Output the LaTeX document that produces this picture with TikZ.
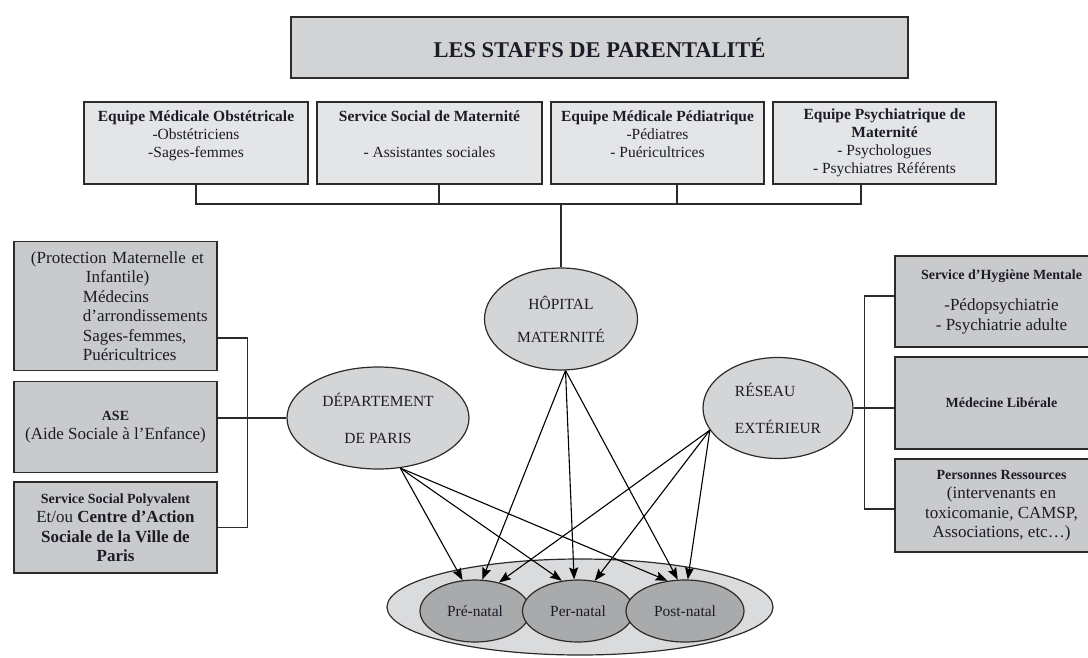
\documentclass[tikz,border=0pt]{standalone}
\usepackage{fontspec}
\setmainfont{Liberation Serif}
\usetikzlibrary{arrows.meta,shapes.geometric}

\definecolor{inkcol}{HTML}{1C1C28}
\definecolor{linecol}{HTML}{2B2B2B}
\definecolor{titlefill}{HTML}{D2D3D5}
\definecolor{topfill}{HTML}{E4E5E7}
\definecolor{sidefill}{HTML}{C9CACC}
\definecolor{ellfill}{HTML}{D4D5D7}
\definecolor{outerfill}{HTML}{DADBDD}
\definecolor{innerfill}{HTML}{A9AAAC}

\newcommand{\titlesize}{\fontsize{22.5}{26}\selectfont}
\newcommand{\topsize}{\fontsize{15.5}{18}\selectfont}
\newcommand{\sidesize}{\fontsize{17}{19.5}\selectfont}
\newcommand{\headsize}{\fontsize{14}{17}\selectfont}

\begin{document}
\begin{tikzpicture}[x=1pt,y=-1pt,
  box/.style={draw=linecol,line width=1.4pt,inner sep=0pt,text=inkcol,align=center},
  topbox/.style={box,fill=topfill,font=\topsize,minimum height=82pt},
  sidebox/.style={box,fill=sidefill,font=\sidesize,minimum width=203pt},
  pole/.style={ellipse,draw=linecol,line width=1.2pt,fill=ellfill,inner sep=0pt,text=inkcol,font=\topsize,align=center},
  period/.style={ellipse,draw=linecol,line width=1.2pt,fill=innerfill,inner sep=0pt,text=inkcol,font=\topsize,minimum height=62pt},
  link/.style={draw=linecol,line width=1.1pt},
  arr/.style={draw=black,line width=1.1pt,-{Stealth[length=12pt,width=9pt,inset=2pt]}}]

\useasboundingbox (0,0) rectangle (1088,657);

\node[box,fill=titlefill,line width=1.6pt,minimum width=617pt,minimum height=61pt,font=\titlesize\bfseries] (titre) at (599.5,47.5) {LES STAFFS DE PARENTALITÉ};

\node[topbox,minimum width=224pt] (obst) at (196,143) {\textbf{Equipe Médicale Obstétricale}\\-Obstétriciens\\-Sages-femmes\\\mbox{}};
\node[topbox,minimum width=225pt] (soc) at (429.5,143) {\textbf{Service Social de Maternité}\\\mbox{}\\- Assistantes sociales\\\mbox{}};
\node[topbox,minimum width=213pt] (ped) at (657.5,143) {\textbf{Equipe Médicale Pédiatrique}\\-Pédiatres\\- Puéricultrices\\\mbox{}};
\node[topbox,minimum width=223pt] (psy) at (884.5,143) {\textbf{Equipe Psychiatrique de}\\\textbf{Maternité}\\- Psychologues\\- Psychiatres Référents};

\node[sidebox,minimum height=129pt,text width=203pt,align=left] (pmi) at (115.5,306) {\hspace*{17pt}(Protection Maternelle et\\\hspace*{72pt}Infantile)\\\hspace*{69pt}Médecins\\\hspace*{69pt}d’arrondissements\\\hspace*{69pt}Sages-femmes,\\\hspace*{69pt}Puéricultrices};
\node[sidebox,minimum height=91pt] (ase) at (115.5,427) {{\headsize\textbf{ASE}}\\(Aide Sociale à l’Enfance)};
\node[sidebox,minimum height=91pt] (ccas) at (115.5,527.5) {{\headsize\textbf{Service Social Polyvalent}}\\Et/ou \textbf{Centre d’Action}\\\textbf{Sociale de la Ville de}\\\textbf{Paris}};

\node[sidebox,minimum width=213pt,minimum height=91pt] (shm) at (1001.5,301.5) {{\headsize\textbf{Service d’Hygiène Mentale}}\\[12pt]-Pédopsychiatrie\\- Psychiatrie adulte};
\node[sidebox,minimum width=213pt,minimum height=92pt] (lib) at (1001.5,403) {{\headsize\textbf{Médecine Libérale}}};
\node[sidebox,minimum width=213pt,minimum height=93pt] (pers) at (1001.5,505.5) {{\headsize\textbf{Personnes Ressources}}\\(intervenants en\\toxicomanie, CAMSP,\\Associations, etc…)};

\node[pole,minimum width=153pt,minimum height=102pt] (hop) at (561,319) {HÔPITAL\\[15pt]MATERNITÉ};
\node[pole,minimum width=182pt,minimum height=102pt] (dep) at (378,418) {DÉPARTEMENT\\[19pt]DE PARIS};
\node[pole,minimum width=150pt,minimum height=101pt,align=left] (res) at (778,408) {RÉSEAU\\[19pt]EXTÉRIEUR};

\node[ellipse,draw=linecol,line width=1.2pt,fill=outerfill,minimum width=386pt,minimum height=96pt] (periode) at (580,607) {};
\node[period,minimum width=110pt] (pre) at (475,611) {Pré-natal};
\node[period,minimum width=111pt] (per) at (578,611) {Per-natal};
\node[period,minimum width=118pt] (post) at (685,611) {Post-natal};

\coordinate (bus) at (561,204);
\draw[link] (obst.south) |- (bus) -| ([xshift=-23.5pt]psy.south);
\draw[link] ([xshift=9.5pt]soc.south) -- ([xshift=9.5pt]soc.south |- bus);
\draw[link] ([xshift=19.5pt]ped.south) -- ([xshift=19.5pt]ped.south |- bus);
\draw[link] (bus) -- (hop.north);

\draw[link] ([yshift=-32pt]pmi.east) -- ++(30,0) |- (ccas.east);
\draw[link] (dep.west) -- (dep.west -| ase.east);

\draw[link] ([yshift=5.5pt]shm.west) -- ++(-30,0) |- ([yshift=-3.5pt]pers.west);
\draw[link] (res.east) -- (res.east -| lib.west);

\foreach \src/\sa/\a/\b/\c in {dep/-66/112/118/120, hop/-85/77/97/103, res/-162/50/61/85} {
  \draw[arr] (\src.\sa) -- (pre.\a);
  \draw[arr] (\src.\sa) -- (per.\b);
  \draw[arr] (\src.\sa) -- (post.\c);
}
\end{tikzpicture}
\end{document}
